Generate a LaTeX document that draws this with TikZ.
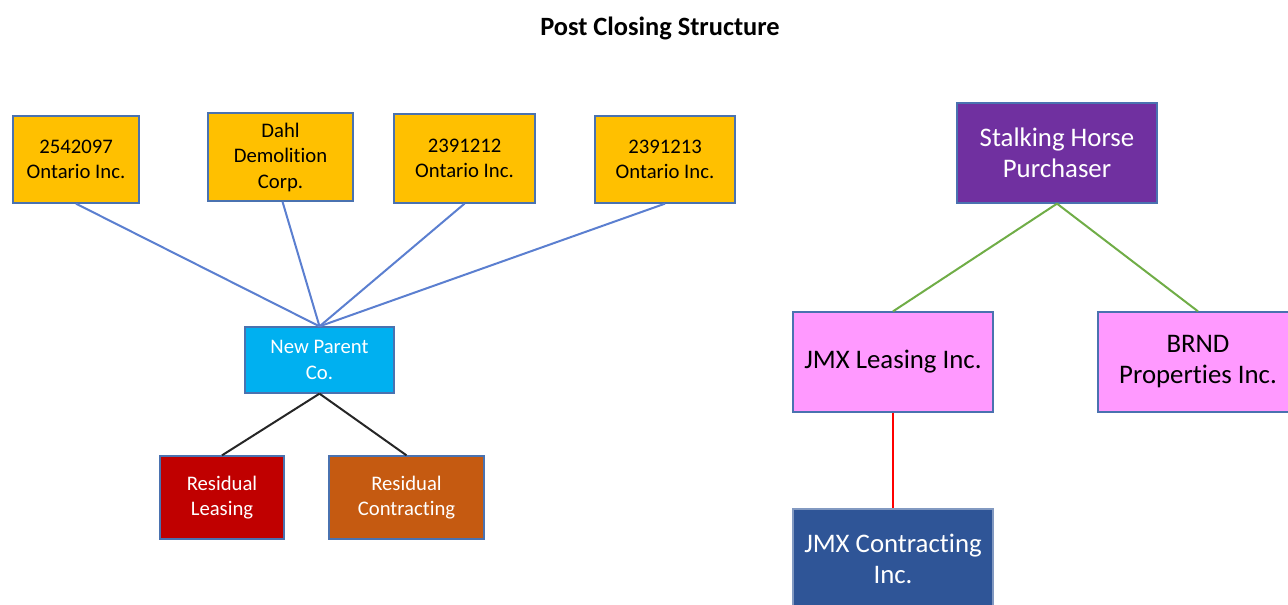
\documentclass[tikz,border=0pt]{standalone}
\usepackage{fontspec}
\setmainfont{Carlito}[Ligatures={NoCommon,NoContextual},RawFeature={-liga;-clig}]
\definecolor{gold}{HTML}{FFC000}
\definecolor{boxedge}{HTML}{4A72B0}
\definecolor{linkblue}{HTML}{5B7FD0}
\definecolor{skyblue}{HTML}{00B0F0}
\definecolor{darkred}{HTML}{C00000}
\definecolor{rust}{HTML}{C55A11}
\definecolor{purple}{HTML}{7030A0}
\definecolor{pink}{HTML}{FF99FF}
\definecolor{navy}{HTML}{2F5597}
\definecolor{leafgreen}{HTML}{70AD47}
\begin{document}
\begin{tikzpicture}[x=1pt,y=-1pt,
  box/.style={draw=boxedge,line width=1.3pt,inner sep=0pt,align=center,anchor=center},
  small/.style={font=\fontsize{20.7}{25.5}\selectfont},
  big/.style={font=\fontsize{26.8}{31}\selectfont},
  link/.style={line width=2pt}]
\useasboundingbox (0,0) rectangle (1288,605);
\clip (0,0) rectangle (1288,605);
\node[font=\bfseries\fontsize{26.4}{30}\selectfont] (title) at (660,28.5) {Post Closing Structure};
% left tree
\node[box,small,fill=gold,minimum width=126pt,minimum height=87pt] (o1) at (76,159.5) {2542097\\Ontario Inc.};
\node[box,small,fill=gold,minimum width=145pt,minimum height=88pt] (dahl) at (280.5,157) {Dahl\\Demolition\\Corp.};
\node[box,small,fill=gold,minimum width=141pt,minimum height=89pt] (o2) at (464.5,158.5) {2391212\\Ontario Inc.};
\node[box,small,fill=gold,minimum width=140pt,minimum height=87pt] (o3) at (665,159.5) {2391213\\Ontario Inc.};
\node[box,small,fill=skyblue,text=white,minimum width=149pt,minimum height=66pt] (np) at (319.5,360) {New Parent\\Co.};
\node[box,small,fill=darkred,text=white,minimum width=124pt,minimum height=83pt] (rl) at (222,497.5) {Residual\\Leasing};
\node[box,small,fill=rust,text=white,minimum width=155pt,minimum height=83pt] (rc) at (406.5,497.5) {Residual\\Contracting};
\coordinate (hub) at (np.north);
\draw[link,linkblue] (o1.south) -- (hub);
\draw[link,linkblue] ([xshift=2pt]dahl.south) -- (hub);
\draw[link,linkblue] (o2.south) -- (hub);
\draw[link,linkblue] (o3.south) -- (hub);
\draw[link,black!85] (np.south) -- (rl.north);
\draw[link,black!85] (np.south) -- (rc.north);
% right tree
\node[box,big,fill=purple,text=white,minimum width=200pt,minimum height=100pt] (shp) at (1057,153) {Stalking Horse\\Purchaser};
\node[box,big,fill=pink,minimum width=200pt,minimum height=100pt] (jl) at (893,362) {JMX Leasing Inc.};
\node[box,big,fill=pink,minimum width=200pt,minimum height=100pt] (brnd) at (1198,362) {BRND\\Properties Inc.};
\node[box,big,fill=navy,text=white,draw=navy!60,minimum width=200pt,minimum height=100pt] (jc) at (893,559) {JMX Contracting\\Inc.};
\draw[link,leafgreen] (shp.south) -- (jl.north);
\draw[link,leafgreen] (shp.south) -- (brnd.north);
\draw[link,red] (jl.south) -- (jc.north);
\end{tikzpicture}
\end{document}
